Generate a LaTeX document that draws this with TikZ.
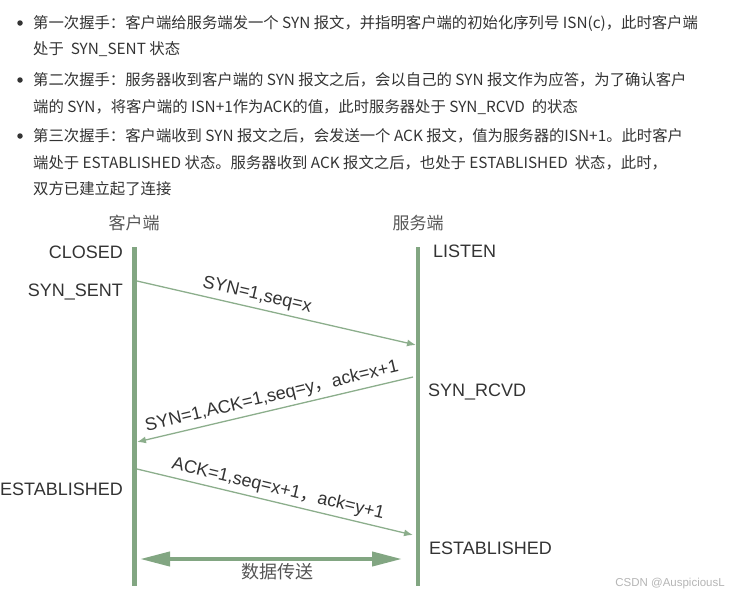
\documentclass[tikz,border=0pt]{standalone}
\usepackage{fontspec}
\setmainfont{Liberation Sans}
\newfontfamily\cjk{Noto Sans CJK SC}
\usetikzlibrary{arrows.meta}
\definecolor{lifeg}{HTML}{82A682}
\definecolor{msgg}{HTML}{8CAE8C}
\definecolor{txt}{HTML}{333333}
\definecolor{hdr}{HTML}{555555}
\definecolor{wm}{HTML}{B5B5B5}
\tikzset{
  bodyline/.style={anchor=west, inner sep=0pt, text=txt,
    font=\cjk\fontsize{15.35}{15.35}\selectfont, text height=13pt, text depth=1.8pt},
  bulletdot/.style={circle, fill=txt, inner sep=0pt, minimum size=5.5pt},
  lifeline/.style={draw=lifeg, line width=4.5pt},
  msg/.style={draw=msgg, line width=1.3pt, -{Latex[length=9pt,width=7pt]}},
  msglabel/.style={sloped, above=3pt, inner sep=1pt, text=txt,
    font=\fontsize{18}{18}\selectfont},
  state/.style={inner sep=0pt, text=txt, font=\fontsize{18}{18}\selectfont,
    text height=12.9pt, text depth=0pt},
  header/.style={inner sep=0pt, text=hdr, font=\cjk\fontsize{17}{17}\selectfont},
  dataarrow/.style={draw=lifeg, line width=4pt,
    {Triangle[length=30pt,width=14pt]}-{Triangle[length=30pt,width=14pt]}}
}
\begin{document}
\begin{tikzpicture}[x=1pt,y=-1pt]
\useasboundingbox (0,0) rectangle (735,597);
% bullet text
\node[bulletdot] (b1) at (20,23) {};
\node[bodyline] (t1) at (33,23) {第一次握手：客户端给服务端发一个 SYN 报文，并指明客户端的初始化序列号 ISN(c)，此时客户端};
\node[bodyline] (t2) at (33,49) {处于\ \ SYN\_SENT 状态};
\node[bulletdot] (b2) at (20,80) {};
\node[bodyline] (t3) at (33,80) {第二次握手：服务器收到客户端的 SYN 报文之后，会以自己的 SYN 报文作为应答，为了确认客户};
\node[bodyline] (t4) at (33,107) {端的 SYN，将客户端的 ISN+1作为ACK的值，此时服务器处于 SYN\_RCVD\ \ 的状态};
\node[bulletdot] (b3) at (20,136) {};
\node[bodyline] (t5) at (33,136) {第三次握手：客户端收到 SYN 报文之后，会发送一个 ACK 报文，值为服务器的ISN+1。此时客户};
\node[bodyline] (t6) at (33,163) {端处于 ESTABLISHED 状态。服务器收到 ACK 报文之后，也处于 ESTABLISHED\ \ 状态，此时，};
\node[bodyline] (t7) at (33,189) {双方已建立起了连接};
% headers
\node[header] (hc) at (134,223) {客户端};
\node[header] (hs) at (418,223) {服务端};
% lifelines
\coordinate (ctop) at (134.5,247);
\coordinate (cbot) at (134.5,586);
\coordinate (stop) at (418,247);
\coordinate (sbot) at (418,586);
\draw[lifeline] (ctop) -- (cbot);
\draw[lifeline] (stop) -- (sbot);
% states
\node[state, anchor=east] (closed) at (123,252) {CLOSED};
\node[state, anchor=east] (synsent) at (123,290) {SYN\_SENT};
\node[state, anchor=west] (listen) at (433,251) {LISTEN};
\node[state, anchor=west] (synrcvd) at (428,390) {SYN\_RCVD};
\node[state, anchor=west] (estc) at (0,489) {ESTABLISHED};
\node[state, anchor=west] (ests) at (429,548) {ESTABLISHED};
% messages
\coordinate (a1s) at (137,281);
\coordinate (a1e) at (416,345);
\coordinate (a2s) at (413,377);
\coordinate (a2e) at (137,442);
\coordinate (a3s) at (137,469);
\coordinate (a3e) at (413,535);
\draw[msg] (a1s) -- node[msglabel, pos=0.42] (l1) {SYN=1,seq=x} (a1e);
\draw[msg] (a2s) -- node[msglabel, pos=0.5] (l2) {SYN=1,ACK=1,seq=y{\cjk ，}ack=x+1} (a2e);
\draw[msg] (a3s) -- node[msglabel, pos=0.5] (l3) {ACK=1,seq=x+1{\cjk ，}ack=y+1} (a3e);
% data transfer
\coordinate (d0) at (140,559);
\coordinate (d1) at (402,559);
\draw[dataarrow] (d0) -- (d1);
\node[header, font=\cjk\fontsize{18}{18}\selectfont] (data) at (277,572) {数据传送};
% watermark
\node[anchor=east, inner sep=0pt, text=wm, font=\fontsize{11.5}{11.5}\selectfont] (wmk) at (725,584) {CSDN @AuspiciousL};
\end{tikzpicture}
\end{document}
